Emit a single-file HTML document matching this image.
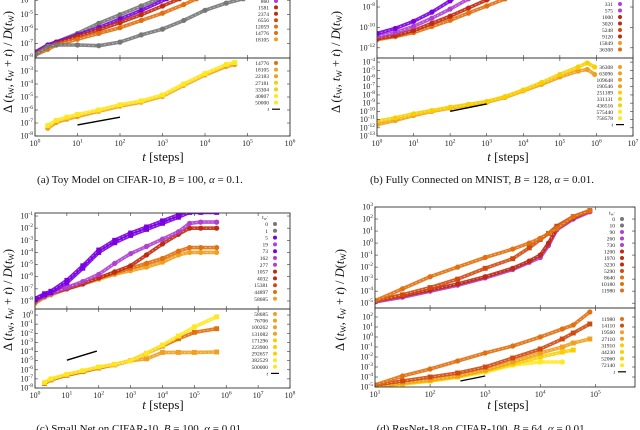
<!DOCTYPE html>
<html><head><meta charset="utf-8"><style>
html,body{margin:0;padding:0;background:#fff;}
svg{display:block;font-family:"Liberation Serif",serif;}
</style></head><body>
<svg id="fig" width="640" height="430" viewBox="0 0 640 430" xmlns="http://www.w3.org/2000/svg"></svg>
<script>
// ---- data (log10 t, log10 Delta) ----
const aTopGrayLowX=[0,0.3,0.5,1,1.5,2,2.5,3,3.5,4,4.5,4.9];
const aTopGrayLowY=[-7.8,-7.2,-7.1,-7.1,-7.15,-6.9,-6.4,-6.0,-5.4,-4.7,-4.2,-3.9];
const aTopGrayHighX=[0,0.3,0.5,1,1.5,2,2.5,2.9];
const aTopGrayHighY=[-7.7,-7.1,-6.9,-6.3,-5.6,-5.0,-4.4,-3.9];
const aTopPurpleX=[0,0.3,0.5,1,1.5,2,2.5,3.1];
const aTopPurpleY=[-7.6,-7.1,-6.9,-6.4,-5.9,-5.3,-4.7,-3.9];
const aTopRedX=[0,0.3,0.5,1,1.5,2,2.5,3,3.4];
const aTopRedY=[-7.7,-7.2,-7.0,-6.5,-6.05,-5.55,-5.0,-4.4,-3.9];
const aTopOrangeX=[0,0.3,0.5,1,1.5,2,2.5,3,3.5,3.8];
const aTopOrangeY=[-7.8,-7.4,-7.1,-6.7,-6.3,-5.9,-5.4,-4.9,-4.3,-3.9];
const aBotX=[0.3,0.5,0.75,1,1.5,2,2.5,3,3.5,4,4.5,4.7];
const aBotY1=[-7.2,-6.8,-6.55,-6.35,-6.0,-5.6,-5.3,-4.85,-4.0,-3.2,-2.5,-2.35];
const aBotY2=[-7.4,-6.95,-6.7,-6.5,-6.1,-5.7,-5.4,-4.95,-4.1,-3.3,-2.65,-2.5];
const aRefX=[1,2];const aRefY=[-7.15,-6.55];

const bTopPurpleX=[0,0.5,1,1.5,2,2.3];
const bTopPurpleY=[-10.6,-10.1,-9.4,-8.5,-7.4,-6.6];
const bTopMagX=[0,0.5,1,1.5,2,2.5,2.8];
const bTopMagY=[-10.9,-10.5,-9.9,-9.1,-8.2,-7.2,-6.6];
const bTopRedX=[0,0.5,1,1.5,2,2.5,3,3.3];
const bTopRedY=[-11.1,-10.8,-10.3,-9.6,-8.9,-8.1,-7.3,-6.8];
const bTopOrangeX=[0,0.5,1,1.5,2,2.5,3,3.5];
const bTopOrangeY=[-11.2,-10.9,-10.5,-9.9,-9.3,-8.6,-7.9,-7.2];
const bBotX=[0,0.5,1,1.5,2,2.5,3,3.5,4,4.5,5,5.5,5.75,5.95];
const bBotY1=[-11.2,-10.8,-10.3,-9.9,-9.5,-9.15,-8.8,-8.2,-7.4,-6.5,-5.5,-4.6,-4.1,-4.6];
const bBotY2=[-11.6,-11.1,-10.5,-10.0,-9.6,-9.25,-8.9,-8.3,-7.5,-6.7,-5.8,-5.1,-4.9,-5.5];
const bRefX=[2,3];const bRefY=[-10.0,-9.1];

const cTopX=[0,0.3,0.5,1,1.5,2,2.5,3,3.5,4,4.5,4.85,5.2,5.7];
const cTopPurple1=[-7.8,-7.4,-7.2,-6.3,-5.1,-3.8,-3.0,-2.4,-1.9,-1.4,-0.9,-0.35,-0.35,-0.35];
const cTopPurple2=[-7.9,-7.5,-7.3,-6.5,-5.3,-4.0,-3.2,-2.6,-2.1,-1.6,-1.1,-0.7,-0.7,-0.7];
const cTopMagenta=[-8.0,-7.6,-7.4,-6.9,-6.4,-5.8,-4.9,-4.1,-3.5,-2.9,-2.3,-1.6,-1.5,-1.5];
const cTopRed=[-8.0,-7.6,-7.4,-7.0,-6.6,-6.1,-5.6,-5.1,-4.2,-3.3,-2.5,-2.0,-2.0,-2.0];
const cTopOrange1=[-8.1,-7.6,-7.4,-6.9,-6.5,-6.1,-5.7,-5.3,-4.9,-4.5,-3.9,-3.6,-3.6,-3.6];
const cTopOrange2=[-8.2,-7.7,-7.5,-7.0,-6.6,-6.2,-5.8,-5.5,-5.2,-4.8,-4.2,-4.0,-4.0,-4.0];
const cBotX=[0.3,0.5,1,1.5,2,2.5,3,3.5,4,4.5,5,5.7];
const cBotYellow=[-7.4,-7.0,-6.5,-6.1,-5.7,-5.4,-5.0,-4.2,-3.3,-2.3,-1.3,-0.2];
const cBotOrange1=[-7.5,-7.1,-6.6,-6.2,-5.8,-5.45,-5.0,-4.2,-3.4,-2.6,-1.9,-1.5];
const cBotOrange2=[-7.5,-7.1,-6.6,-6.2,-5.8,-5.45,-5.0,-4.8,-4.1,-4.1,-4.1,-4.05];
const cRefX=[1,1.94];const cRefY=[-4.95,-3.95];

const dTopX=[1,1.5,2,2.5,3,3.5,3.8,4,4.15,4.3,4.6,4.9];
const dTopUpper=[-4.8,-3.8,-2.8,-2.0,-1.2,-0.5,0.0,0.4,0.8,1.2,2.2,2.7];
const dTopMiddle=[-4.8,-4.3,-3.7,-3.0,-2.1,-1.3,-0.4,0.3,0.8,1.4,2.2,2.7];
const dTopRed=[-4.8,-4.4,-3.9,-3.4,-2.8,-2.1,-1.5,-1.0,0.0,1.2,2.1,2.7];
const dTopPurple=[-4.9,-4.5,-4.0,-3.5,-2.9,-2.2,-1.6,-1.2,-0.2,1.1,2.0,2.6];
const dBotX=[1,1.5,2,2.5,3,3.5,4,4.4,4.6,4.9];
const dBotTop=[-4.8,-3.9,-3.2,-2.4,-1.6,-0.9,0.0,0.8,1.2,2.5];
const dBotSecond=[-4.8,-4.4,-4.0,-3.6,-3.0,-2.1,-1.2,-0.2,0.4,1.3];
const dBotYellow1=[-5.0,-4.6,-4.3,-3.9,-3.3,-2.5,-1.6,-1.0,-0.6,-0.2];
const dBotYellow2=[-5.0,-4.7,-4.4,-4.0,-3.4,-2.7,-2.0,-1.5,-1.3,null];
const dBotYellow3=[-5.0,-4.7,-4.4,-4.0,-3.5,-2.8,-2.5,-2.5,null,null];
const dRefX=[2.55,3.0];const dRefY=[-4.4,-3.9];

const aTopLegend=['860','1581','2374','6556','12059','14776','18105'];
const aBotLegend=['14776','18105','22183','27181','33304','40807','50000'];
const bTopLegend=['331','575','1000','3020','5248','9120','15849','36308'];
const bBotLegend=['36308','63096','109648','190546','251189','331131','436516','575440','758578'];
const cTopLegend=['0','1','5','19','73','162','277','1057','4032','15381','44897','58685'];
const cBotLegend=['58685','76706','100262','131082','171296','223900','292657','382529','500000'];
const dTopLegend=['0','10','90','260','730','1200','1970','3230','5290','8640','10180','11980'];
const dBotLegend=['11980','14110','19560','27110','31910','44230','52060','72140'];

// ---- drawing ----
const NS='http://www.w3.org/2000/svg';
const svg=document.getElementById('fig');
function mk(tag,attrs,parent){const e=document.createElementNS(NS,tag);for(const k in attrs)e.setAttribute(k,attrs[k]);(parent||svg).appendChild(e);return e;}
let clipN=0;
function axis(L,R,x0,x1,T,B,y0,y1){return {L,R,T,B,sx:v=>L+(v-x0)/(x1-x0)*(R-L),sy:v=>B-(v-y1)/(y0-y1)*(B-T)};}
function pow(g,x,y,e,anchor){const t=mk('text',{x:x,y:y,'font-size':8,'text-anchor':anchor,fill:'#222'},g);t.textContent='10';const s=mk('tspan',{'font-size':5.5,dy:-3.5},t);s.textContent=e;return t;}
function series(g,ax,xs,ys,color,name,marker){
  const grp=mk('g',{},g);
  
  
  let d='';let started=false;
  xs.forEach((x,i)=>{const y=ys[i];if(y===null||y===undefined){return;}d+=(started?'L':'M')+ax.sx(x).toFixed(1)+','+ax.sy(y).toFixed(1);started=true;});
  mk('path',{d:d,fill:'none',stroke:color,'stroke-width':3.6,'stroke-linejoin':'round','stroke-linecap':'round',opacity:0.9},grp);
  mk('path',{d:d,fill:'none',stroke:'#fff','stroke-width':0.6,'stroke-dasharray':'1.5 2.5',opacity:0.7},grp);
  xs.forEach((x,i)=>{const y=ys[i];if(y===null||y===undefined)return;
    if(marker==='sq'){mk('rect',{x:ax.sx(x)-2,y:ax.sy(y)-2,width:4,height:4,fill:color,stroke:color,'stroke-width':0.9},grp);}
    else mk('circle',{cx:ax.sx(x),cy:ax.sy(y),r:2.1,fill:color,stroke:color,'stroke-width':1},grp);});
}
function refLine(g,ax,xs,ys){const l=mk('line',{x1:ax.sx(xs[0]),y1:ax.sy(ys[0]),x2:ax.sx(xs[1]),y2:ax.sy(ys[1]),stroke:'#000','stroke-width':1.4},g);
  
  }
function legend(g,labels,colors,xr,y0,dy,withT,title,name){
  const lg=mk('g',{},g);
  
  
  let y=y0;
  if(title){const t=mk('text',{x:xr,y:y-dy+2,'font-size':5.5,'text-anchor':'end','font-style':'italic',fill:'#222'},lg);t.textContent='t';const s=mk('tspan',{'font-size':4,dy:1},t);s.textContent='w';const s2=mk('tspan',{dy:-1},t);s2.textContent=':';}
  labels.forEach((lab,i)=>{const t=mk('text',{x:xr,y:y+2,'font-size':5.5,'text-anchor':'end',fill:'#222'},lg);t.textContent=lab;
    mk('circle',{cx:xr+7,cy:y,r:1.6,fill:colors[i%colors.length],stroke:colors[i%colors.length],'stroke-width':0.8},lg);y+=dy;});
  if(withT){const t=mk('text',{x:xr,y:y+2,'font-size':5.5,'text-anchor':'end','font-style':'italic',fill:'#222'},lg);t.textContent='t';mk('line',{x1:xr+3,y1:y,x2:xr+11,y2:y,stroke:'#000','stroke-width':1.2},lg);}
}
function frame(g,ax,ticksY,name,showX,xticks,x0,x1){
  const fg=mk('g',{},g);
  
  
  mk('rect',{x:ax.L,y:ax.T,width:ax.R-ax.L,height:ax.B-ax.T,fill:'none',stroke:'#333','stroke-width':0.9},fg);
  ticksY.forEach(v=>{const y=ax.sy(v);if(y<ax.T-1||y>ax.B+1)return;
    mk('line',{x1:ax.L,y1:y,x2:ax.L+3,y2:y,stroke:'#333','stroke-width':0.6},fg);
    mk('line',{x1:ax.R,y1:y,x2:ax.R-3,y2:y,stroke:'#333','stroke-width':0.6},fg);
    pow(fg,ax.L-2,y+2.5,String(v),'end');});
  xticks.forEach(v=>{const x=ax.sx(v);
    mk('line',{x1:x,y1:ax.B,x2:x,y2:ax.B-3,stroke:'#333','stroke-width':0.6},fg);
    mk('line',{x1:x,y1:ax.T,x2:x,y2:ax.T+3,stroke:'#333','stroke-width':0.6},fg);
    if(showX)pow(fg,x,ax.B+10,String(v),'middle');});
}
function clip(g,ax){const id='c'+(clipN++);const cp=mk('clipPath',{id:id},svg);mk('rect',{x:ax.L,y:ax.T,width:ax.R-ax.L,height:ax.B-ax.T},cp);const cg=mk('g',{'clip-path':'url(#'+id+')'},g);return cg;}
function range(a,b){const r=[];for(let i=a;i<=b;i++)r.push(i);return r;}
function ylabel(g,x,y){const t=mk('text',{x:0,y:0,'font-size':12.5,'text-anchor':'middle',transform:'translate('+x+','+y+') rotate(-90)',fill:'#111'},g);
  
  t.innerHTML='Δ (<tspan font-style="italic">t</tspan><tspan font-size="8" dy="2">W</tspan><tspan dy="-2">, </tspan><tspan font-style="italic">t</tspan><tspan font-size="8" dy="2">W</tspan><tspan dy="-2"> + </tspan><tspan font-style="italic">t</tspan>) / <tspan font-style="italic">D</tspan>(<tspan font-style="italic">t</tspan><tspan font-size="8" dy="2">W</tspan><tspan dy="-2">)</tspan>';}
function xlabel(g,x,y){const t=mk('text',{x:x,y:y,'font-size':13,'text-anchor':'middle',fill:'#111'},g);
  
  t.innerHTML='<tspan font-style="italic">t</tspan> [steps]';}
function caption(g,x,y,html,name){const t=mk('text',{x:x,y:y,'font-size':11,'text-anchor':'middle',fill:'#111'},g);
  t.innerHTML=html;}

const P='#7a00e0',M='#b040d0',R='#c02a10',RO='#d04a10',O='#e07010',LO='#f0a020',Y='#f8d000',YY='#ffe820',G='#777';

// Panel a
(function(){
  const g=mk('g',{});
  const top=axis(35,290,0,6,-20,58,-2.6,-8), bot=axis(35,290,0,6,58,136,-2,-8);
  const ct=clip(g,top), cb=clip(g,bot);
  series(ct,top,aTopGrayHighX,aTopGrayHighY,G,'series-gray-high');
  series(ct,top,aTopPurpleX,aTopPurpleY,P,'series-purple');
  series(ct,top,aTopRedX,aTopRedY,R,'series-red');
  series(ct,top,aTopOrangeX,aTopOrangeY,O,'series-orange');
  series(ct,top,aTopGrayLowX,aTopGrayLowY,G,'series-gray-low');
  series(cb,bot,aBotX,aBotY2,LO,'series-orange-bottom');
  series(cb,bot,aBotX,aBotY1,YY,'series-yellow-bottom','sq');
  refLine(cb,bot,aRefX,aRefY);
  frame(g,top,range(-8,-3),'top-axes',false,range(0,6));
  frame(g,bot,range(-8,-3),'bottom-axes',true,range(0,6));
  legend(g,aTopLegend,[M,R,R,RO,O,O,LO],269,1,6.4,false,false,'legend-top');
  legend(g,aBotLegend,[O,LO,LO,Y,Y,YY,YY],269,63,6.6,true,false,'legend-bottom');
  ylabel(g,12,62);xlabel(g,163,161);
  caption(g,140,183,'(a) Toy Model on CIFAR-10, <tspan font-style="italic">B</tspan> = 100, <tspan font-style="italic">α</tspan> = 0.1.','caption-a');
})();
// Panel b
(function(){
  const g=mk('g',{});
  const top=axis(377,633,0,7,-20,58,-5.35,-13), bot=axis(377,633,0,7,58,136,-3.5,-13);
  const ct=clip(g,top), cb=clip(g,bot);
  series(ct,top,bTopOrangeX,bTopOrangeY,O,'series-orange');
  series(ct,top,bTopRedX,bTopRedY,R,'series-red');
  series(ct,top,bTopMagX,bTopMagY,M,'series-magenta');
  series(ct,top,bTopPurpleX,bTopPurpleY,P,'series-purple');
  series(cb,bot,bBotX,bBotY2,LO,'series-orange-bottom');
  series(cb,bot,bBotX,bBotY1,Y,'series-yellow-bottom');
  refLine(cb,bot,bRefX,bRefY);
  frame(g,top,[-12,-10,-8,-6],'top-axes',false,range(0,7));
  frame(g,bot,range(-13,-4),'bottom-axes',true,range(0,7));
  legend(g,bTopLegend,[M,M,R,R,RO,R,LO,O],613,4,6.5,false,false,'legend-top');
  legend(g,bBotLegend,[LO,LO,LO,LO,Y,Y,Y,YY,YY],613,67,6.4,true,false,'legend-bottom');
  ylabel(g,340,62);xlabel(g,508,161);
  caption(g,482,183,'(b) Fully Connected on MNIST, <tspan font-style="italic">B</tspan> = 128, <tspan font-style="italic">α</tspan> = 0.01.','caption-b');
})();
// Panel c
(function(){
  const g=mk('g',{});
  const top=axis(35,290,0,8,213,309,-0.75,-8.66), bot=axis(35,290,0,8,309,388,0.66,-8);
  const ct=clip(g,top), cb=clip(g,bot);
  series(ct,top,cTopX,cTopOrange2,LO,'series-orange-2');
  series(ct,top,cTopX,cTopOrange1,O,'series-orange-1');
  series(ct,top,cTopX,cTopRed,R,'series-red');
  series(ct,top,cTopX,cTopMagenta,M,'series-magenta');
  series(ct,top,cTopX,cTopPurple2,P,'series-purple-2','sq');
  series(ct,top,cTopX,cTopPurple1,P,'series-purple-1','sq');
  series(cb,bot,cBotX,cBotOrange2,LO,'series-orange-flat','sq');
  series(cb,bot,cBotX,cBotOrange1,O,'series-orange-bottom','sq');
  series(cb,bot,cBotX,cBotYellow,YY,'series-yellow-bottom','sq');
  refLine(cb,bot,cRefX,cRefY);
  frame(g,top,range(-8,-1),'top-axes',false,range(0,8));
  frame(g,bot,range(-8,0),'bottom-axes',true,range(0,8));
  legend(g,cTopLegend,[G,G,P,M,P,M,M,R,R,RO,O,LO],268,224,6.8,false,true,'legend-top');
  legend(g,cBotLegend,[LO,LO,LO,LO,Y,Y,Y,YY,YY],268,314,6.6,true,false,'legend-bottom');
  ylabel(g,12,300);xlabel(g,163,409);
  caption(g,140,432,'(c) Small Net on CIFAR-10, <tspan font-style="italic">B</tspan> = 100, <tspan font-style="italic">α</tspan> = 0.01.','caption-c');
})();
// Panel d
(function(){
  const g=mk('g',{});
  const top=axis(375,635,1,5.72,207,308,3,-5.4), bot=axis(375,635,1,5.72,308,387,2.9,-5);
  const ct=clip(g,top), cb=clip(g,bot);
  series(ct,top,dTopX,dTopPurple,M,'series-purple');
  series(ct,top,dTopX,dTopRed,R,'series-red');
  series(ct,top,dTopX,dTopMiddle,RO,'series-middle','sq');
  series(ct,top,dTopX,dTopUpper,O,'series-upper');
  series(cb,bot,dBotX,dBotYellow3,YY,'series-yellow-3');
  series(cb,bot,dBotX,dBotYellow2,Y,'series-yellow-2','sq');
  series(cb,bot,dBotX,dBotYellow1,LO,'series-yellow-1','sq');
  series(cb,bot,dBotX,dBotSecond,RO,'series-second','sq');
  series(cb,bot,dBotX,dBotTop,O,'series-top');
  refLine(cb,bot,dRefX,dRefY);
  frame(g,top,range(-5,3),'top-axes',false,range(1,5));
  frame(g,bot,range(-5,2),'bottom-axes',true,range(1,5));
  legend(g,dTopLegend,[G,G,M,M,M,R,R,R,RO,O,O,O],615,219,6.5,false,true,'legend-top');
  legend(g,dBotLegend,[O,RO,LO,LO,Y,Y,Y,YY],615,319,6.6,true,false,'legend-bottom');
  ylabel(g,344,300);xlabel(g,508,409);
  caption(g,482,432,'(d) ResNet-18 on CIFAR-100, <tspan font-style="italic">B</tspan> = 64, <tspan font-style="italic">α</tspan> = 0.01.','caption-d');
})();
</script>
</body></html>
